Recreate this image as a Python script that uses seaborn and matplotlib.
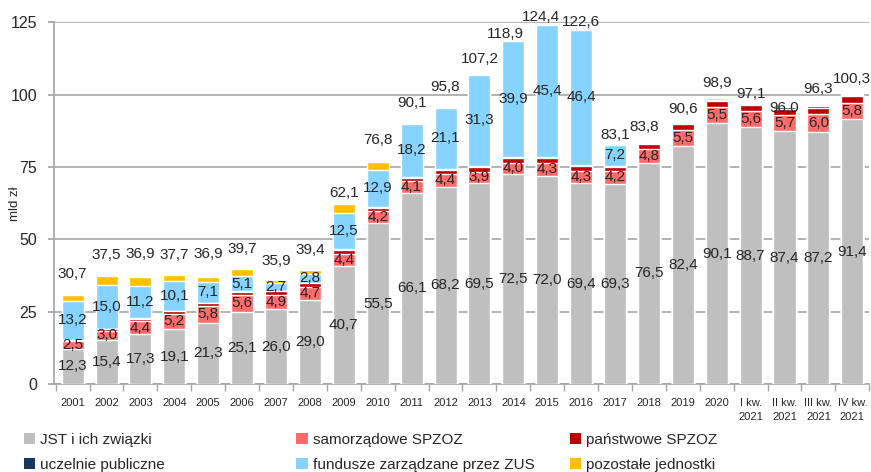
import numpy as np
import pandas as pd
import seaborn as sns
import matplotlib.pyplot as plt
from matplotlib.patches import Patch

# dane (mld zł)
kategorie = [str(r) for r in range(2001, 2021)] + ['I kw.\n2021', 'II kw.\n2021', 'III kw.\n2021', 'IV kw.\n2021']
jst = [12.3, 15.4, 17.3, 19.1, 21.3, 25.1, 26.0, 29.0, 40.7, 55.5, 66.1, 68.2, 69.5, 72.5, 72.0, 69.4,
       69.3, 76.5, 82.4, 90.1, 88.7, 87.4, 87.2, 91.4]
samorzadowe = [2.5, 3.0, 4.4, 5.2, 5.8, 5.6, 4.9, 4.7, 4.4, 4.2, 4.1, 4.4, 3.9, 4.0, 4.3, 4.3,
               4.2, 4.8, 5.5, 5.5, 5.6, 5.7, 6.0, 5.8]
panstwowe = [0.4, 0.5, 0.8, 0.9, 0.9, 1.2, 1.2, 1.2, 1.3, 1.3, 1.1, 1.5, 1.6, 1.6, 1.8, 1.8,
             1.6, 1.8, 2.0, 2.1, 2.0, 2.0, 2.2, 2.3]
uczelnie = [0.2, 0.2, 0.2, 0.2, 0.2, 0.2, 0.2, 0.2, 0.2, 0.2, 0.3, 0.3, 0.5, 0.4, 0.4, 0.3,
            0.3, 0.2, 0.3, 0.6, 0.5, 0.5, 0.5, 0.4]
zus = [13.2, 15.0, 11.2, 10.1, 7.1, 5.1, 2.7, 2.8, 12.5, 12.9, 18.2, 21.1, 31.3, 39.9, 45.4, 46.4,
       7.2, 0, 0, 0, 0, 0, 0, 0]
pozostale = [2.1, 3.4, 3.0, 2.2, 1.6, 2.5, 0.9, 1.5, 3.0, 2.7, 0.3, 0.3, 0.4, 0.5, 0.5, 0.4,
             0.5, 0.5, 0.4, 0.6, 0.3, 0.4, 0.4, 0.4]
suma = [30.7, 37.5, 36.9, 37.7, 36.9, 39.7, 35.9, 39.4, 62.1, 76.8, 90.1, 95.8, 107.2, 118.9, 124.4, 122.6,
        83.1, 83.8, 90.6, 98.9, 97.1, 96.0, 96.3, 100.3]

# przesunięcia etykiet sum (piksele) - jak ręcznie poprawione w oryginale
dy_suma = [21, 21, 23, 20, 23, 20, 19, 20, 11, 22, 20, 20, 15, 6, 7, 7,
           9, 15, 13, 15, 9, -2, 16, 15]
dx_suma = [0] * 13 + [-8, -6, 0, 0, -5] + [0] * 6

serie = ['JST i ich związki', 'samorządowe SPZOZ', 'państwowe SPZOZ',
         'uczelnie publiczne', 'fundusze zarządzane przez ZUS', 'pozostałe jednostki']
kolory = ['#BFBFBF', '#FF6B6B', '#C00000', '#17375E', '#87D3FF', '#FFC000']

df = pd.DataFrame({'kat': kategorie, serie[0]: jst, serie[1]: samorzadowe, serie[2]: panstwowe,
                   serie[3]: uczelnie, serie[4]: zus, serie[5]: pozostale})
skum = df[serie].cumsum(axis=1)

sns.set_theme(style='white')
plt.rcParams['font.family'] = ['Liberation Sans', 'DejaVu Sans']

fig = plt.figure(figsize=(8.71, 4.72), dpi=100)
ax = fig.add_axes([0.062, 0.186, 0.936, 0.767])

# słupki skumulowane - od najwyższej warstwy do najniższej
for s, c in reversed(list(zip(serie, kolory))):
    sns.barplot(x=df['kat'], y=skum[s], color=c, saturation=1, width=0.65,
                errorbar=None, order=kategorie, ax=ax, zorder=3)

x = np.arange(len(kategorie))
fmt = lambda v: f'{v:.1f}'.replace('.', ',')
fs = 11
for i in x:
    ax.text(i, jst[i] / 2, fmt(jst[i]), ha='center', va='center', fontsize=fs, zorder=5)
    ax.text(i, jst[i] + samorzadowe[i] / 2, fmt(samorzadowe[i]), ha='center', va='center', fontsize=fs, zorder=5)
    if zus[i] > 0:
        b = jst[i] + samorzadowe[i] + panstwowe[i] + uczelnie[i]
        ax.text(i, b + zus[i] / 2, fmt(zus[i]), ha='center', va='center', fontsize=fs, zorder=5)
    ax.annotate(fmt(suma[i]), (i, suma[i]), xytext=(dx_suma[i], dy_suma[i]), textcoords='offset pixels',
                ha='center', va='center', fontsize=fs, zorder=5, annotation_clip=False)

ax.set_xlim(-0.55, 23.5)
ax.set_ylim(0, 125)
ax.set_yticks([0, 25, 50, 75, 100, 125])
ax.yaxis.grid(True, color='#A6A6A6', linewidth=1.2, zorder=0)
ax.set_axisbelow(True)
ax.tick_params(axis='y', labelsize=11.5, length=4, color='#A6A6A6', left=True, pad=8)
ax.tick_params(axis='x', labelsize=8, length=0, pad=10)
ax.set_xticks(x, kategorie, linespacing=1.55)
ax.set_xticks(np.arange(-0.5, 24, 1), minor=True)
ax.tick_params(axis='x', which='minor', length=5, color='#A6A6A6', bottom=True)
for sp in ['top', 'right']:
    ax.spines[sp].set_visible(False)
for sp in ['left', 'bottom']:
    ax.spines[sp].set_color('#A6A6A6')
    ax.spines[sp].set_linewidth(1.2)
ax.set_xlabel('')
ax.set_ylabel('mld zł', fontsize=9.5)
ax.yaxis.set_label_coords(-0.04, 0.5)

# legenda w trzech kolumnach
uchwyty = [Patch(facecolor=c, edgecolor='none') for c in kolory]
for k, xpos in enumerate([0.02, 0.333, 0.647]):
    leg = fig.legend([uchwyty[k], uchwyty[k + 3]], [serie[k], serie[k + 3]],
                     loc='lower left', bbox_to_anchor=(xpos, -0.012), frameon=False,
                     fontsize=11, handlelength=0.75, handleheight=0.75, handletextpad=0.35,
                     labelspacing=0.68, borderaxespad=0)

fig.savefig('out.png', dpi=100)
